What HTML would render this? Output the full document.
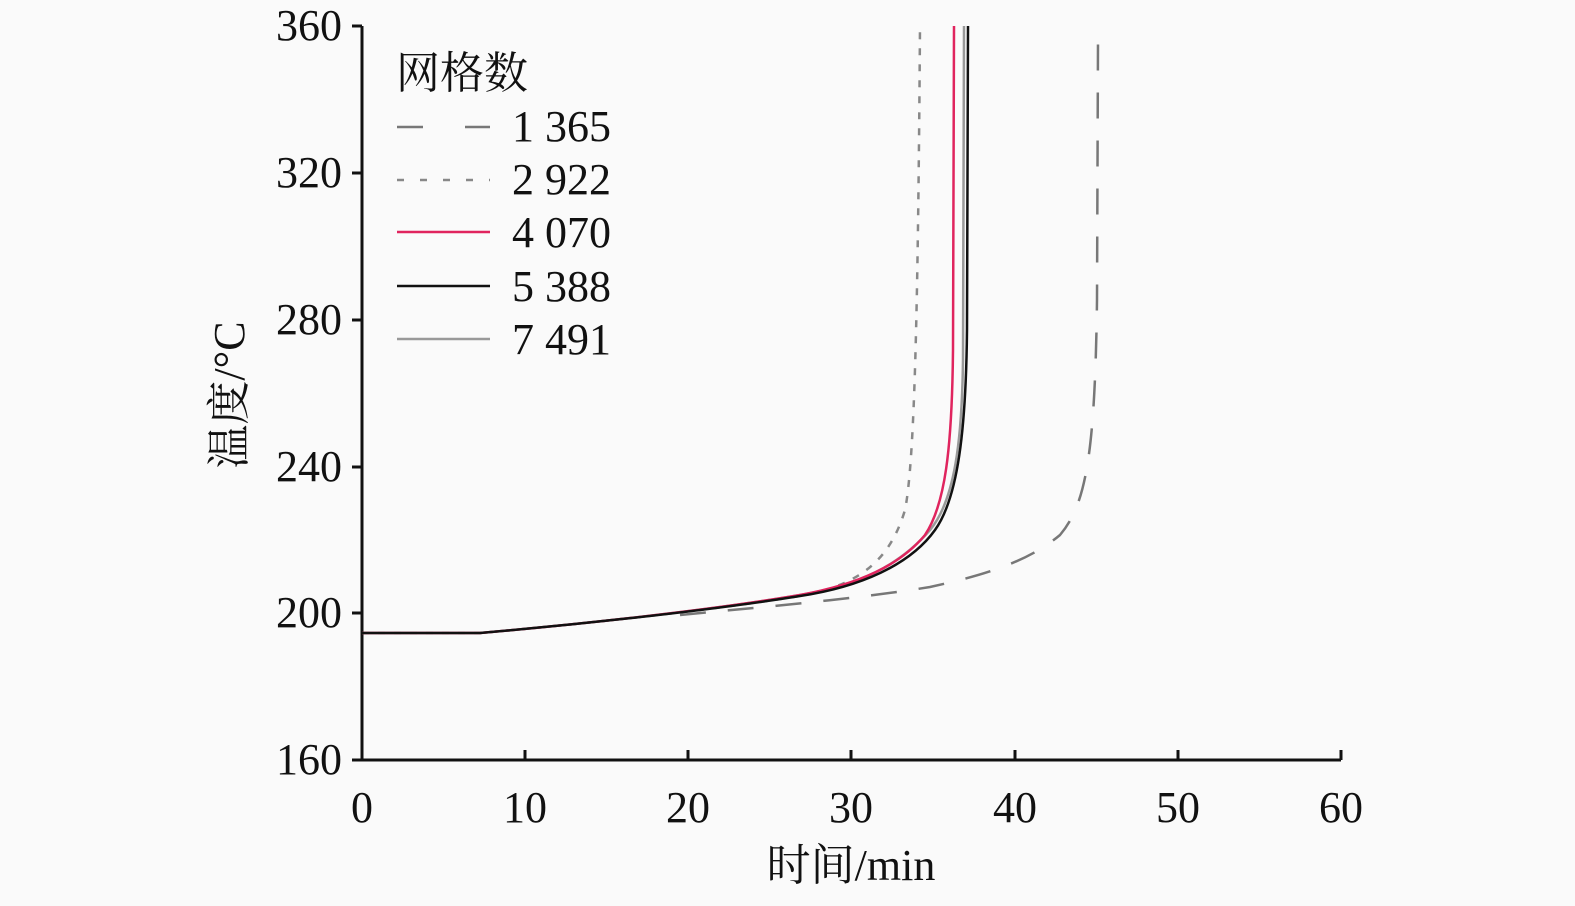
<!DOCTYPE html><html><head><meta charset="utf-8"><style>body{margin:0;background:#fafafa}</style></head><body>
<svg width="1575" height="901" xmlns="http://www.w3.org/2000/svg" style="font-family:'Liberation Serif','Noto Serif CJK SC',serif">
<rect width="1575" height="901" fill="#fafafa"/>
<g stroke="#111" stroke-width="3" fill="none">
<path d="M362,26V760H1341"/>
<path d="M362,26h-10M362,173h-10M362,320h-10M362,467h-10M362,613h-10M362,760h-10"/>
<path d="M525,760v-10M688,760v-10M851,760v-10M1015,760v-10M1178,760v-10M1341,760v-10"/>
</g>
<g font-size="44" fill="#111" text-anchor="end">
<text x="342" y="40">360</text><text x="342" y="187">320</text><text x="342" y="334">280</text><text x="342" y="481">240</text><text x="342" y="627">200</text><text x="342" y="774">160</text>
</g>
<g font-size="44" fill="#111" text-anchor="middle">
<text x="362" y="822">0</text><text x="525" y="822">10</text><text x="688" y="822">20</text><text x="851" y="822">30</text><text x="1015" y="822">40</text><text x="1178" y="822">50</text><text x="1341" y="822">60</text>
<text x="851" y="880">时间/min</text>
<text transform="translate(244,395) rotate(-90)">温度/°C</text>
</g>
<g fill="none" stroke-width="2.5">
<path d="M680,615 C750,608 850,600 930,587 C990,574 1030,560 1060,535 C1085,505 1095,460 1097,300 L1098,40" stroke="#777" stroke-dasharray="26,22"/>
<path d="M362,633 L480,633 C560,626 700,612 800,596 C860,585 890,560 905,510 C915,460 918,300 920,26" stroke="#888" stroke-dasharray="7,9"/>
<path d="M362,633 L480,633 C560,626 700,612 800,595 C860,585 900,565 930,530 C955,500 962,440 963,360 L964,26" stroke="#999"/>
<path d="M362,633 L480,633 C560,626 700,612 800,595 C860,584 900,565 925,535 C945,505 952,450 953,350 L954,26" stroke="#e0245e"/>
<path d="M362,633 L480,633 C560,626 700,612 800,596 C860,587 910,565 935,530 C958,498 966,430 967,330 L968,26" stroke="#111"/>
</g>
<g font-size="44" fill="#111">
<text x="396" y="88">网格数</text>
<text x="512" y="141">1 365</text><text x="512" y="194">2 922</text><text x="512" y="247">4 070</text><text x="512" y="301">5 388</text><text x="512" y="354">7 491</text>
</g>
<g stroke-width="2.5">
<path d="M397,127H490" stroke="#777" stroke-dasharray="26,42"/>
<path d="M397,180H490" stroke="#888" stroke-dasharray="7,16"/>
<path d="M397,232H490" stroke="#e0245e"/>
<path d="M397,286H490" stroke="#111"/>
<path d="M397,339H490" stroke="#999"/>
</g>
</svg></body></html>
